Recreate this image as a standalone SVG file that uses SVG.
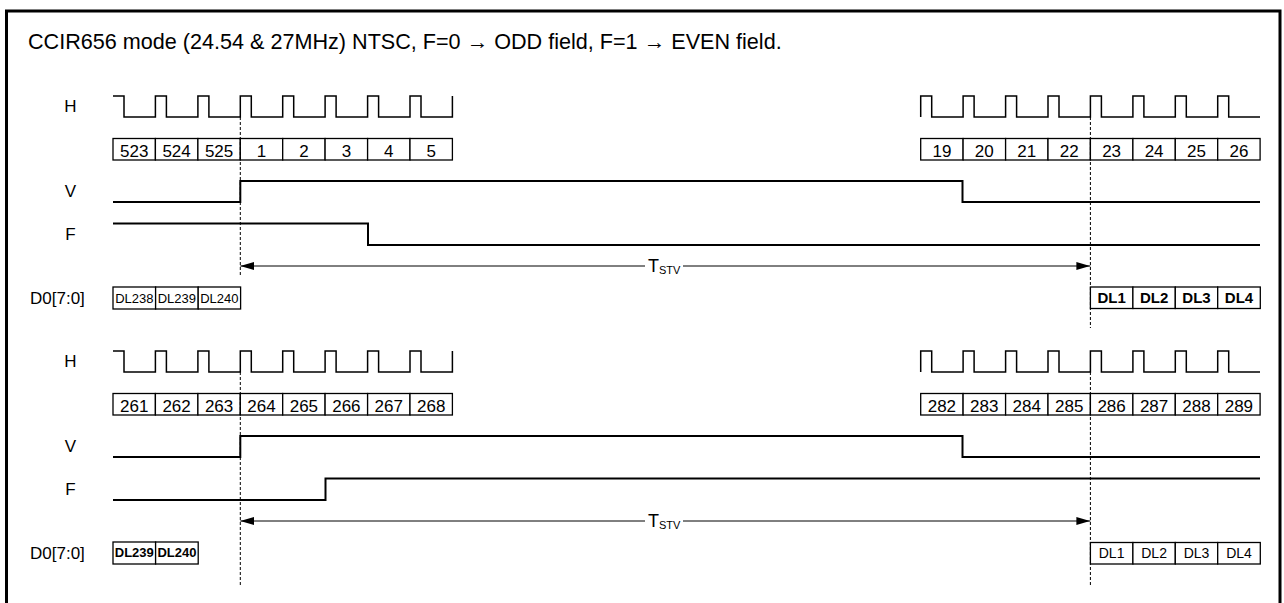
<svg xmlns="http://www.w3.org/2000/svg" width="1284" height="603" viewBox="0 0 1284 603">
<style>
text{font-family:"Liberation Sans",Arial,Helvetica,sans-serif;fill:#000}
.title{font-size:21.6px}
.lbl{font-size:17px;text-anchor:middle}
.d0{font-size:17px}
.num{font-size:17px;text-anchor:middle}
.dls{font-size:13px;text-anchor:middle}
.dlsb{font-size:13px;text-anchor:middle;font-weight:bold}
.dlr{font-size:14px;text-anchor:middle}
.dlb{font-size:15px;text-anchor:middle;font-weight:bold}
.tstv{font-size:18px}
.hw{fill:none;stroke:#000;stroke-width:1.5}
.sig{fill:none;stroke:#000;stroke-width:2}
.box{fill:#fff;stroke:#000;stroke-width:1.3}
.dash{fill:none;stroke:#000;stroke-width:1;stroke-dasharray:3 2}
.arr{fill:none;stroke:#000;stroke-width:1;marker-start:url(#ah);marker-end:url(#ah)}
</style>
<defs>
<marker id="ah" viewBox="0 0 14 8" refX="14" refY="4" markerWidth="14" markerHeight="8" markerUnits="userSpaceOnUse" orient="auto-start-reverse">
<path d="M0,0 L14,4 L0,8 Z" fill="#000"/>
</marker>
</defs>
<rect x="0" y="0" width="1284" height="603" fill="#fff"/>
<rect id="frame" x="6.5" y="11" width="1273.5" height="620" fill="none" stroke="#000" stroke-width="3"/>
<text id="title" class="title" x="28" y="49">CCIR656 mode (24.54 &amp; 27MHz) NTSC, F=0 → ODD field, F=1 → EVEN field.</text>

<g id="odd-field">
<g id="odd-labels">
<text class="lbl" x="70.5" y="112">H</text>
<text class="lbl" x="70.5" y="197">V</text>
<text class="lbl" x="70.5" y="240">F</text>
<text class="d0" x="30" y="304">D0[7:0]</text>
</g>
<g id="odd-h-left">
<path class="hw" d="M113,96 H124 V117 H155.4 V96 H166.4 V117 H197.9 V96 H208.9 V117 H240.3 V96 H251.3 V117 H282.7 V96 H293.7 V117 H325.1 V96 H336.1 V117 H367.6 V96 H378.6 V117 H410 V96 H421 V117 H452.4 V96"/>
</g>
<g id="odd-h-right">
<path class="hw" d="M920.7,117 V96 H931.7 V117 H963.1 V96 H974.1 V117 H1005.6 V96 H1016.6 V117 H1048 V96 H1059 V117 H1090.4 V96 H1101.4 V117 H1132.9 V96 H1143.9 V117 H1175.3 V96 H1186.3 V117 H1217.7 V96 H1228.7 V117 H1260"/>
</g>
<g id="odd-lines-left">
<rect class="box" x="113" y="138.5" width="42.4" height="21.5"/>
<rect class="box" x="155.4" y="138.5" width="42.5" height="21.5"/>
<rect class="box" x="197.9" y="138.5" width="42.4" height="21.5"/>
<rect class="box" x="240.3" y="138.5" width="42.4" height="21.5"/>
<rect class="box" x="282.7" y="138.5" width="42.4" height="21.5"/>
<rect class="box" x="325.1" y="138.5" width="42.5" height="21.5"/>
<rect class="box" x="367.6" y="138.5" width="42.4" height="21.5"/>
<rect class="box" x="410" y="138.5" width="42.4" height="21.5"/>
<text class="num" x="134.2" y="156.5">523</text>
<text class="num" x="176.6" y="156.5">524</text>
<text class="num" x="219.1" y="156.5">525</text>
<text class="num" x="261.5" y="156.5">1</text>
<text class="num" x="303.9" y="156.5">2</text>
<text class="num" x="346.4" y="156.5">3</text>
<text class="num" x="388.8" y="156.5">4</text>
<text class="num" x="431.2" y="156.5">5</text>
</g>
<g id="odd-lines-right">
<rect class="box" x="920.7" y="138.5" width="42.4" height="21.5"/>
<rect class="box" x="963.1" y="138.5" width="42.5" height="21.5"/>
<rect class="box" x="1005.6" y="138.5" width="42.4" height="21.5"/>
<rect class="box" x="1048" y="138.5" width="42.4" height="21.5"/>
<rect class="box" x="1090.4" y="138.5" width="42.5" height="21.5"/>
<rect class="box" x="1132.9" y="138.5" width="42.4" height="21.5"/>
<rect class="box" x="1175.3" y="138.5" width="42.4" height="21.5"/>
<rect class="box" x="1217.7" y="138.5" width="42.4" height="21.5"/>
<text class="num" x="941.9" y="156.5">19</text>
<text class="num" x="984.3" y="156.5">20</text>
<text class="num" x="1026.8" y="156.5">21</text>
<text class="num" x="1069.2" y="156.5">22</text>
<text class="num" x="1111.6" y="156.5">23</text>
<text class="num" x="1154.1" y="156.5">24</text>
<text class="num" x="1196.5" y="156.5">25</text>
<text class="num" x="1238.9" y="156.5">26</text>
</g>
<g id="odd-v"><path class="sig" d="M113,202 H240.3 V181 H962.5 V202 H1260"/></g>
<g id="odd-f"><path class="sig" d="M113,223.5 H368 V245 H1260"/></g>
<g id="odd-dl-left">
<rect class="box" x="113" y="287" width="42.6" height="22"/>
<rect class="box" x="155.6" y="287" width="42.6" height="22"/>
<rect class="box" x="198.2" y="287" width="42.4" height="22"/>
<text class="dls" x="134.3" y="303">DL238</text>
<text class="dls" x="176.9" y="303">DL239</text>
<text class="dls" x="219.4" y="303">DL240</text>
</g>
<g id="odd-dl-right">
<rect class="box" x="1090.4" y="287" width="42.5" height="21.5"/>
<rect class="box" x="1132.9" y="287" width="42.4" height="21.5"/>
<rect class="box" x="1175.3" y="287" width="42.4" height="21.5"/>
<rect class="box" x="1217.7" y="287" width="42.6" height="21.5"/>
<text class="dlb" x="1111.6" y="303">DL1</text>
<text class="dlb" x="1154.1" y="303">DL2</text>
<text class="dlb" x="1196.5" y="303">DL3</text>
<text class="dlb" x="1239" y="303">DL4</text>
</g>
</g>

<g id="even-field">
<g id="even-labels">
<text class="lbl" x="70.5" y="367">H</text>
<text class="lbl" x="70.5" y="452">V</text>
<text class="lbl" x="70.5" y="495">F</text>
<text class="d0" x="30" y="559">D0[7:0]</text>
</g>
<g id="even-h-left">
<path class="hw" d="M113,351 H124 V372 H155.4 V351 H166.4 V372 H197.9 V351 H208.9 V372 H240.3 V351 H251.3 V372 H282.7 V351 H293.7 V372 H325.1 V351 H336.1 V372 H367.6 V351 H378.6 V372 H410 V351 H421 V372 H452.4 V351"/>
</g>
<g id="even-h-right">
<path class="hw" d="M920.7,372 V351 H931.7 V372 H963.1 V351 H974.1 V372 H1005.6 V351 H1016.6 V372 H1048 V351 H1059 V372 H1090.4 V351 H1101.4 V372 H1132.9 V351 H1143.9 V372 H1175.3 V351 H1186.3 V372 H1217.7 V351 H1228.7 V372 H1260"/>
</g>
<g id="even-lines-left">
<rect class="box" x="113" y="393.5" width="42.4" height="21.5"/>
<rect class="box" x="155.4" y="393.5" width="42.5" height="21.5"/>
<rect class="box" x="197.9" y="393.5" width="42.4" height="21.5"/>
<rect class="box" x="240.3" y="393.5" width="42.4" height="21.5"/>
<rect class="box" x="282.7" y="393.5" width="42.4" height="21.5"/>
<rect class="box" x="325.1" y="393.5" width="42.5" height="21.5"/>
<rect class="box" x="367.6" y="393.5" width="42.4" height="21.5"/>
<rect class="box" x="410" y="393.5" width="42.4" height="21.5"/>
<text class="num" x="134.2" y="411.5">261</text>
<text class="num" x="176.6" y="411.5">262</text>
<text class="num" x="219.1" y="411.5">263</text>
<text class="num" x="261.5" y="411.5">264</text>
<text class="num" x="303.9" y="411.5">265</text>
<text class="num" x="346.4" y="411.5">266</text>
<text class="num" x="388.8" y="411.5">267</text>
<text class="num" x="431.2" y="411.5">268</text>
</g>
<g id="even-lines-right">
<rect class="box" x="920.7" y="393.5" width="42.4" height="21.5"/>
<rect class="box" x="963.1" y="393.5" width="42.5" height="21.5"/>
<rect class="box" x="1005.6" y="393.5" width="42.4" height="21.5"/>
<rect class="box" x="1048" y="393.5" width="42.4" height="21.5"/>
<rect class="box" x="1090.4" y="393.5" width="42.5" height="21.5"/>
<rect class="box" x="1132.9" y="393.5" width="42.4" height="21.5"/>
<rect class="box" x="1175.3" y="393.5" width="42.4" height="21.5"/>
<rect class="box" x="1217.7" y="393.5" width="42.4" height="21.5"/>
<text class="num" x="941.9" y="411.5">282</text>
<text class="num" x="984.3" y="411.5">283</text>
<text class="num" x="1026.8" y="411.5">284</text>
<text class="num" x="1069.2" y="411.5">285</text>
<text class="num" x="1111.6" y="411.5">286</text>
<text class="num" x="1154.1" y="411.5">287</text>
<text class="num" x="1196.5" y="411.5">288</text>
<text class="num" x="1238.9" y="411.5">289</text>
</g>
<g id="even-v"><path class="sig" d="M113,457 H240.3 V436 H962.5 V457 H1260"/></g>
<g id="even-f"><path class="sig" d="M113,500 H325.5 V478.5 H1260"/></g>
<g id="even-dl-left">
<rect class="box" x="113" y="542" width="42.6" height="22"/>
<rect class="box" x="155.6" y="542" width="42.6" height="22"/>
<text class="dlsb" x="134.3" y="557">DL239</text>
<text class="dlsb" x="176.9" y="557">DL240</text>
</g>
<g id="even-dl-right">
<rect class="box" x="1090.4" y="542.5" width="42.5" height="21.5"/>
<rect class="box" x="1132.9" y="542.5" width="42.4" height="21.5"/>
<rect class="box" x="1175.3" y="542.5" width="42.4" height="21.5"/>
<rect class="box" x="1217.7" y="542.5" width="42.6" height="21.5"/>
<text class="dlr" x="1111.6" y="558">DL1</text>
<text class="dlr" x="1154.1" y="558">DL2</text>
<text class="dlr" x="1196.5" y="558">DL3</text>
<text class="dlr" x="1239" y="558">DL4</text>
</g>
</g>

<g id="connectors">
<path class="dash" d="M240.3,117 V275"/>
<path class="dash" d="M1090.4,117 V328"/>
<path class="dash" d="M240.3,372 V585"/>
<path class="dash" d="M1090.4,372 V585"/>
<path class="arr" d="M240.3,266 H645 M683,266 H1090.4"/>
<path class="arr" d="M240.3,521 H645 M683,521 H1090.4"/>
<text class="tstv" x="648" y="272">T<tspan font-size="11" dy="2">STV</tspan></text>
<text class="tstv" x="648" y="527">T<tspan font-size="11" dy="2">STV</tspan></text>
</g>
</svg>
